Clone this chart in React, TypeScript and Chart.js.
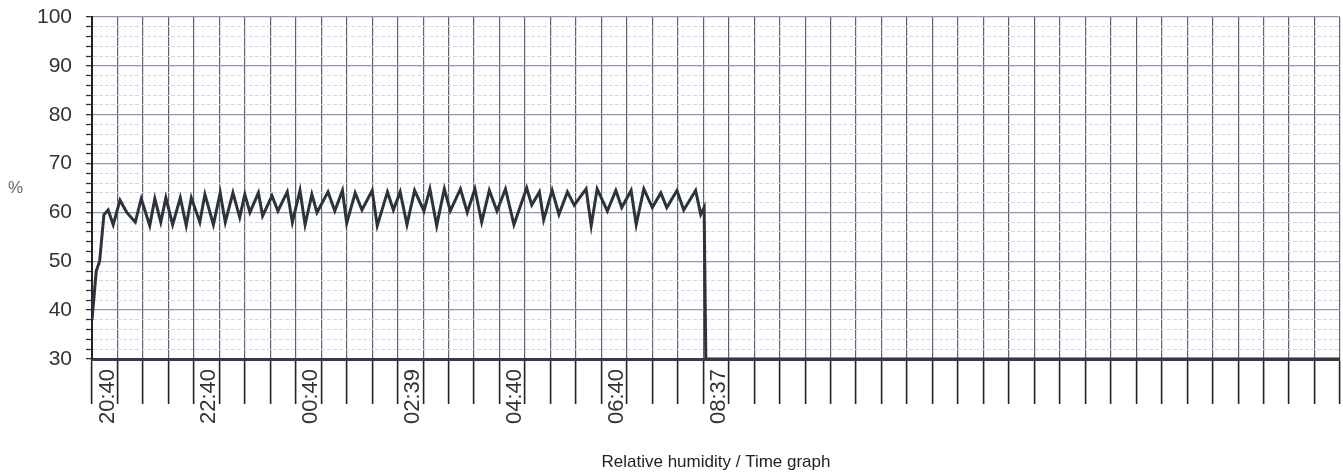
import React, { useEffect, useRef } from "react";
import { Chart, registerables } from "chart.js";

Chart.register(...registerables);

// minutes after 20:10 (one x step = 30 min)
const sampleMinutes = [
  0, 5, 9, 14, 19, 25, 33, 41, 51, 58, 68, 74, 81, 87, 95, 104, 111, 117, 127, 133,
  143, 151, 157, 166, 174, 180, 186, 196, 201, 212, 219, 230, 236, 245, 251, 259, 265, 278, 286, 295,
  300, 310, 318, 330, 336, 348, 355, 363, 371, 380, 391, 398, 406, 415, 422, 434, 442, 451, 459, 468,
  477, 487, 497, 512, 518, 527, 532, 542, 550, 560, 568, 582, 588, 595, 607, 617, 624, 635, 641, 650,
  660, 670, 677, 689, 697, 711, 717, 721, 723, 1470,
];
const humidity = [
  38, 48, 50, 59.5, 60.5, 57.5, 62.5, 60, 58, 62.8, 57.3, 62.8, 58, 63, 57.5, 63, 57.3, 63, 58, 63.7,
  57.5, 64, 58, 64, 59, 63.7, 60, 64, 59.3, 63.4, 60.3, 64.2, 58, 64.5, 57.5, 63.7, 60, 64.2, 60.3, 64.5,
  57.8, 64, 60.5, 64.5, 57.3, 64.2, 60.5, 64.2, 57.5, 64.5, 60.3, 64.8, 57.3, 64.8, 60.3, 64.8, 60, 64.8, 58, 64.5,
  60.3, 64.8, 57.5, 65, 61.5, 64.2, 58.5, 64.5, 59.6, 64.2, 61.5, 64.8, 57.3, 64.8, 60.3, 64.5, 61, 64.5, 57.5, 64.8,
  61, 64, 61, 64.5, 60.5, 64.5, 59.6, 61, 30, 30,
];
const tickLabelMinutes = [30, 150, 270, 390, 510, 630, 750];
const tickLabels = ["20:40", "22:40", "00:40", "02:39", "04:40", "06:40", "08:37"];
const yMajorLabels = [30, 40, 50, 60, 70, 80, 90, 100];

const FONT = "'Liberation Sans', Arial, sans-serif";

export default function App() {
  const ref = useRef<HTMLCanvasElement | null>(null);

  useEffect(() => {
    if (!ref.current) return;
    const percentPlugin = {
      id: "percentLabel",
      afterDraw(chart: any) {
        const { ctx, chartArea } = chart;
        ctx.save();
        ctx.fillStyle = "#666";
        ctx.font = `17px ${FONT}`;
        ctx.textAlign = "left";
        ctx.textBaseline = "middle";
        ctx.fillText("%", 8, (chartArea.top + chartArea.bottom) / 2);
        ctx.restore();
      },
    };
    const chart = new Chart(ref.current, {
      type: "line",
      data: {
        datasets: [
          {
            label: "Relative humidity",
            data: sampleMinutes.map((m, i) => ({ x: m, y: humidity[i] })),
            borderColor: "#2e323d",
            borderWidth: 3,
            pointRadius: 0,
            tension: 0,
            fill: false,
          },
        ],
      },
      options: {
        animation: false,
        responsive: false,
        layout: { padding: { top: 17, right: 3, left: 0, bottom: 0 } },
        plugins: { legend: { display: false }, tooltip: { enabled: false } },
        scales: {
          x: {
            type: "linear",
            min: 0,
            max: 1470,
            afterFit: (s: any) => {
              s.height = 116;
              s.paddingLeft = 0;
              s.paddingRight = 0;
            },
            ticks: {
              stepSize: 30,
              autoSkip: false,
              maxRotation: 90,
              minRotation: 90,
              padding: -35,
              labelOffset: -10,
              color: "#333",
              font: { family: FONT, size: 22 },
              callback: (v: any) => {
                const i = tickLabelMinutes.indexOf(Number(v));
                return i >= 0 ? tickLabels[i] : "";
              },
            },
            grid: {
              color: "#5f626b",
              lineWidth: 1.2,
              tickColor: "#222",
              tickWidth: 1.6,
              tickLength: 45,
            },
            border: { color: "#333a48", width: 3 },
            title: {
              display: true,
              text: "Relative humidity / Time graph",
              color: "#222",
              font: { family: FONT, size: 17 },
              padding: { top: 0, bottom: 2 },
            },
          },
          y: {
            min: 30,
            max: 100,
            afterFit: (s: any) => {
              s.width = 92;
              s.paddingTop = 0;
              s.paddingBottom = 0;
            },
            ticks: {
              stepSize: 2,
              autoSkip: false,
              padding: 14,
              color: "#333",
              font: { family: FONT, size: 21 },
              callback: (v: any) => (yMajorLabels.includes(Number(v)) ? String(v) : ""),
            },
            grid: {
              color: (c: any) =>
                c.tick && yMajorLabels.includes(c.tick.value) ? "#8f96b8" : "#cfd6ee",
              lineWidth: (c: any) =>
                c.tick && yMajorLabels.includes(c.tick.value) ? 1.3 : 1,
              tickColor: "#333",
              tickWidth: 1.3,
              tickLength: 6,
            },
            border: {
              color: "#222",
              width: 2,
              dash: (c: any) =>
                c.tick && !yMajorLabels.includes(c.tick.value) ? [4, 2] : [],
            },
          },
        },
      },
      plugins: [percentPlugin],
    });
    return () => chart.destroy();
  }, []);

  return (
    <div style={{ position: "absolute", left: 0, top: 0, width: 1343, height: 475, background: "#fff" }}>
      <canvas ref={ref} width={1343} height={475} style={{ width: 1343, height: 475 }} />
    </div>
  );
}
